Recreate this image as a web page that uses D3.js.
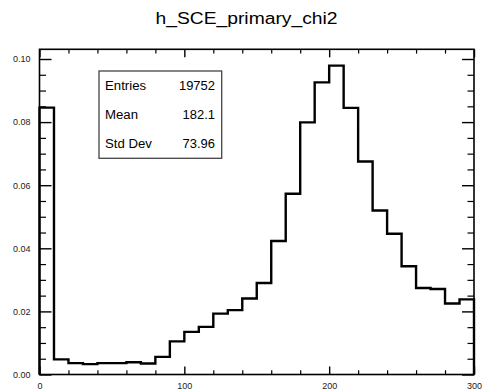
<!DOCTYPE html>
<html><head><meta charset="utf-8">
<script src="https://cdn.jsdelivr.net/npm/d3@7"></script>
<style>html,body{margin:0;padding:0;background:#fff;} svg{display:block;}</style>
</head><body>
<svg id="c" width="483" height="392"></svg>
<script>
const title = "h_SCE_primary_chi2";
const binLow = [0,10,20,30,40,50,60,70,80,90,100,110,120,130,140,150,160,170,180,190,200,210,220,230,240,250,260,270,280,290];
const binWidth = 10;
const values = [0.0846,0.0048,0.0036,0.0033,0.0036,0.0036,0.0039,0.0035,0.0056,0.0105,
                0.0135,0.0151,0.0193,0.0204,0.0241,0.0290,0.0423,0.0573,0.0799,0.0926,
                0.0979,0.0845,0.0675,0.0520,0.0446,0.0343,0.0274,0.0271,0.0225,0.0238];
const xMajor = [0,100,200,300];
const xTickLabels = ["0","100","200","300"];
const xMinor = [20,40,60,80,120,140,160,180,220,240,260,280];
const yMajor = [0,0.02,0.04,0.06,0.08,0.10];
const yTickLabels = ["0.00","0.02","0.04","0.06","0.08","0.10"];
const yMinor = [0.005,0.01,0.015,0.025,0.03,0.035,0.045,0.05,0.055,0.065,0.07,0.075,0.085,0.09,0.095];
const statNames = ["Entries","Mean","Std Dev"];
const statValues = ["19752","182.1","73.96"];

const svg = d3.select("#c");
const FONT = "'Liberation Sans', Arial, Helvetica, sans-serif";
const L = 39.5, R = 474, B = 374.5, T = 49.3;
const x = d3.scaleLinear().domain([0,300]).range([L,R]);
const y = d3.scaleLinear().domain([0,0.1]).range([B,59]);

// title
svg.append("text").attr("x",246.5).attr("y",23.5).attr("text-anchor","middle")
  .attr("font-family",FONT).attr("font-size",16).attr("fill","#000")
  .attr("textLength",182).attr("lengthAdjust","spacingAndGlyphs").text(title);

// histogram
const pts = [[0,0]];
binLow.forEach((b,i)=>pts.push([b, values[i]]));
pts.push([binLow[binLow.length-1]+binWidth, values[values.length-1]]);
pts.push([binLow[binLow.length-1]+binWidth, 0]);
const line = d3.line().x(d=>x(d[0])).y(d=>y(d[1])).curve(d3.curveStepAfter);
svg.append("path").attr("d",line(pts)).attr("fill","none").attr("stroke","#000")
  .attr("stroke-width",2.4).attr("stroke-linejoin","miter");

function styleAxis(g, sw){
  g.select(".domain").remove();
  g.selectAll(".tick line").attr("stroke","#000").attr("stroke-width",sw);
  g.selectAll("text").attr("font-family",FONT).attr("font-size",9).attr("fill","#222");
}
// left
svg.append("g").attr("transform",`translate(${L},0)`)
  .call(d3.axisLeft(y).tickValues(yMajor).tickSize(-12).tickPadding(9).tickFormat((d,i)=>yTickLabels[i]))
  .call(g=>styleAxis(g,1.4));
svg.append("g").attr("transform",`translate(${L},0)`)
  .call(d3.axisLeft(y).tickValues(yMinor).tickSize(-6.5).tickFormat(""))
  .call(g=>styleAxis(g,1.2));
// right
svg.append("g").attr("transform",`translate(${R},0)`)
  .call(d3.axisRight(y).tickValues(yMajor).tickSize(-12).tickFormat(""))
  .call(g=>styleAxis(g,1.4));
svg.append("g").attr("transform",`translate(${R},0)`)
  .call(d3.axisRight(y).tickValues(yMinor).tickSize(-6.5).tickFormat(""))
  .call(g=>styleAxis(g,1.2));
// bottom
svg.append("g").attr("transform",`translate(0,${B})`)
  .call(d3.axisBottom(x).tickValues(xMajor).tickSize(-8).tickPadding(8.5).tickFormat((d,i)=>xTickLabels[i]))
  .call(g=>styleAxis(g,1.4));
svg.append("g").attr("transform",`translate(0,${B})`)
  .call(d3.axisBottom(x).tickValues(xMinor).tickSize(-4.3).tickFormat(""))
  .call(g=>styleAxis(g,1.2));
// top
svg.append("g").attr("transform",`translate(0,${T})`)
  .call(d3.axisTop(x).tickValues(xMajor).tickSize(-8).tickFormat(""))
  .call(g=>styleAxis(g,1.4));
svg.append("g").attr("transform",`translate(0,${T})`)
  .call(d3.axisTop(x).tickValues(xMinor).tickSize(-4.3).tickFormat(""))
  .call(g=>styleAxis(g,1.2));

// frame
svg.append("rect").attr("x",L).attr("y",T).attr("width",R-L).attr("height",B-T)
  .attr("fill","none").attr("stroke","#000").attr("stroke-width",1.6);

// stats box
const bx=99, by=71, bw=122.7, bh=87.3;
svg.append("rect").attr("x",bx).attr("y",by).attr("width",bw).attr("height",bh)
  .attr("fill","#fff").attr("stroke","#444").attr("stroke-width",1.3);
const rowY = [89.5,118.5,147.5];
statNames.forEach((n,i)=>{
  const t = svg.append("text").attr("x",105).attr("y",rowY[i]).attr("font-family",FONT)
    .attr("font-size",12).attr("fill","#000").text(n);
  const w = t.node().getComputedTextLength();
  t.attr("textLength",w*1.1).attr("lengthAdjust","spacingAndGlyphs");
  const v = svg.append("text").attr("x",215).attr("y",rowY[i]).attr("text-anchor","end")
    .attr("font-family",FONT).attr("font-size",12).attr("fill","#000").text(statValues[i]);
  const w2 = v.node().getComputedTextLength();
  v.attr("textLength",w2*1.08).attr("lengthAdjust","spacingAndGlyphs");
});
</script>
</body></html>
